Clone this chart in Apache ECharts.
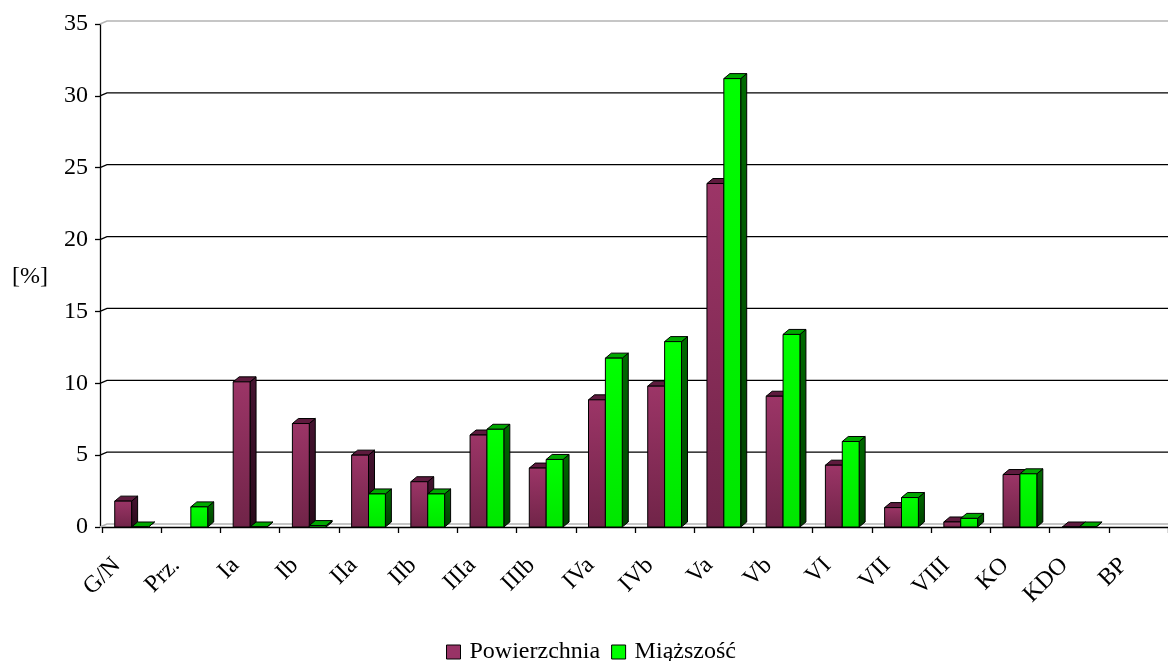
<!DOCTYPE html>
<html>
<head>
<meta charset="utf-8">
<title>Powierzchnia i miąższość</title>
<script src="https://cdn.jsdelivr.net/npm/echarts@6/dist/echarts.min.js"></script>
<style>
  html, body { margin: 0; padding: 0; background: #ffffff; }
  #chart { width: 1168px; height: 661px; }
</style>
</head>
<body>
<div id="chart"></div>
<script>
// Categories along the horizontal axis
const CATEGORIES = ['G/N', 'Prz.', 'Ia', 'Ib', 'IIa', 'IIb', 'IIIa', 'IIIb', 'IVa', 'IVb',
                    'Va', 'Vb', 'VI', 'VII', 'VIII', 'KO', 'KDO', 'BP'];

// Share of area [%] (null = no bar)
const POWIERZCHNIA = [1.8, null, 10.1, 7.2, 5.0, 3.15, 6.4, 4.1, 8.85, 9.8,
                      23.9, 9.1, 4.3, 1.35, 0.35, 3.65, 0, null];

// Share of volume [%] (null = no bar)
const MIAZSZOSC = [0, 1.4, 0, 0.1, 2.3, 2.3, 6.8, 4.7, 11.75, 12.9,
                   31.2, 13.4, 5.95, 2.05, 0.6, 3.7, 0, null];

// Value axis ticks
const Y_TICKS = [0, 5, 10, 15, 20, 25, 30, 35];

const FONT = "'Liberation Serif', 'Times New Roman', serif";
const FONT_SIZE = 24;

// Depth of the bar prisms and of the back wall (pixels)
const BAR_DX = 6, BAR_DY = -5;
const WALL_DX = 7, WALL_DY = -3;
const BAR_RATIO = 0.285;

const STYLES = {
  pow: {
    front: ['#9c3567', '#702448'],
    top: '#5e1b3e',
    side: ['#451330', '#2a0a1b']
  },
  mia: {
    front: ['#00ff00', '#00e600'],
    top: '#00a800',
    side: ['#006a00', '#003f00']
  }
};

function grad(c) {
  return { type: 'linear', x: 0, y: 0, x2: 0, y2: 1,
           colorStops: [{ offset: 0, color: c[0] }, { offset: 1, color: c[1] }] };
}

function barRenderer(slot, st) {
  return function (params, api) {
    const v = api.value(1);
    if (v === null || v === undefined || isNaN(v)) return null;
    const idx = api.value(0);
    const base = api.coord([idx, 0]);
    const top = api.coord([idx, v]);
    const band = api.size([1, 0])[0];
    const w = band * BAR_RATIO;
    const x0 = slot === 0 ? base[0] - w : base[0];
    const x1 = x0 + w;
    const yb = base[1], yt = top[1];
    const line = { stroke: '#000', lineWidth: 1 };
    return {
      type: 'group',
      children: [
        { type: 'polygon',
          shape: { points: [[x1, yt], [x1 + BAR_DX, yt + BAR_DY], [x1 + BAR_DX, yb + BAR_DY], [x1, yb]] },
          style: Object.assign({ fill: grad(st.side) }, line) },
        { type: 'polygon',
          shape: { points: [[x0, yt], [x1, yt], [x1 + BAR_DX, yt + BAR_DY], [x0 + BAR_DX, yt + BAR_DY]] },
          style: Object.assign({ fill: st.top }, line) },
        { type: 'rect',
          shape: { x: x0, y: yt, width: w, height: Math.max(yb - yt, 0) },
          style: Object.assign({ fill: grad(st.front) }, line) }
      ]
    };
  };
}

// Back wall gridlines, drawn slightly up and to the right of the tick marks
function wallRenderer(params, api) {
  const v = api.value(1);
  const p = api.coord([0, v]);
  const band = api.size([1, 0])[0];
  const xStart = p[0] - band / 2 - 2;
  const xEnd = p[0] - band / 2 + band * CATEGORIES.length + WALL_DX + 10;
  const y = p[1];
  const grey = (v === 0 || v === 35);
  return {
    type: 'polyline',
    shape: { points: [[xStart, y], [xStart + WALL_DX, y + WALL_DY], [xEnd, y + WALL_DY]] },
    style: { stroke: grey ? '#b4b4b4' : '#000', lineWidth: grey ? 1.5 : 1.3, fill: null }
  };
}

const chart = echarts.init(document.getElementById('chart'), null, { renderer: 'canvas' });

chart.setOption({
  backgroundColor: '#ffffff',
  animation: false,
  textStyle: { fontFamily: FONT },
  grid: { left: 102, top: 24, width: 1070, height: 503 },
  legend: {
    left: 446, top: 640, padding: 0,
    itemWidth: 14, itemHeight: 14, itemGap: 11,
    textStyle: { fontFamily: FONT, fontSize: FONT_SIZE, color: '#000', padding: [0, 0, 0, 4] },
    itemStyle: { borderColor: '#000', borderWidth: 1 },
    data: [
      { name: 'Powierzchnia', icon: 'rect' },
      { name: 'Miąższość', icon: 'rect' }
    ]
  },
  graphic: [{
    type: 'text', left: 12, top: 265,
    style: { text: '[%]', font: FONT_SIZE + 'px ' + FONT, fill: '#000' }
  }],
  xAxis: {
    type: 'category',
    data: CATEGORIES,
    boundaryGap: true,
    axisLine: { show: true, lineStyle: { color: '#000', width: 1.3 } },
    axisTick: { show: true, length: 6, lineStyle: { color: '#000', width: 1.3 } },
    axisLabel: {
      interval: 0, rotate: 45, margin: 20, padding: [0, 21, 0, 0],
      fontSize: FONT_SIZE, fontFamily: FONT, color: '#000'
    },
    splitLine: { show: false }
  },
  yAxis: {
    type: 'value',
    min: 0, max: 35, interval: 5,
    offset: 2,
    axisLine: { show: true, lineStyle: { color: '#000', width: 1.3 } },
    axisTick: { show: true, length: 5, lineStyle: { color: '#000', width: 1.3 } },
    axisLabel: { margin: 12, fontSize: FONT_SIZE, fontFamily: FONT, color: '#000' },
    splitLine: { show: false }
  },
  series: [
    {
      name: 'wall', type: 'custom', z: 1, silent: true,
      renderItem: wallRenderer,
      data: Y_TICKS.map(function (t) { return [0, t]; })
    },
    {
      name: 'Powierzchnia', type: 'custom', z: 2,
      itemStyle: { color: '#993366' },
      renderItem: barRenderer(0, STYLES.pow),
      encode: { x: 0, y: 1 },
      data: POWIERZCHNIA.map(function (v, i) { return [i, v === null ? '-' : v]; })
    },
    {
      name: 'Miąższość', type: 'custom', z: 3,
      itemStyle: { color: '#00ff00' },
      renderItem: barRenderer(1, STYLES.mia),
      encode: { x: 0, y: 1 },
      data: MIAZSZOSC.map(function (v, i) { return [i, v === null ? '-' : v]; })
    }
  ]
});
</script>
</body>
</html>
